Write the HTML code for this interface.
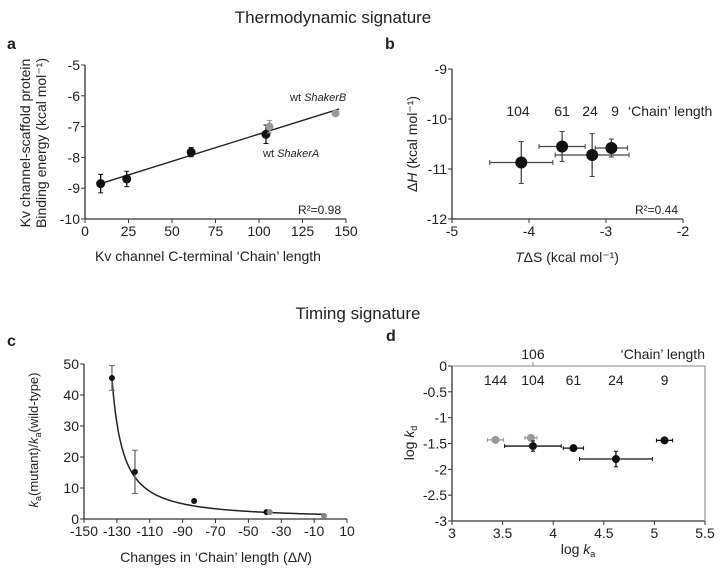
<!DOCTYPE html>
<html><head><meta charset="utf-8"><style>
body{margin:0;background:#fff;}
svg{display:block;font-family:"Liberation Sans",Arial,sans-serif;}
text{fill:#222;}
</style></head><body>
<svg id="fig" width="720" height="573" viewBox="0 0 720 573" xmlns="http://www.w3.org/2000/svg">
<text x="333" y="23" font-size="17" text-anchor="middle">Thermodynamic signature</text>
<text x="358" y="319" font-size="17" text-anchor="middle">Timing signature</text>
<text x="7" y="49" font-size="16" font-weight="bold">a</text>
<text x="385" y="49" font-size="16" font-weight="bold">b</text>
<text x="7" y="346" font-size="16" font-weight="bold">c</text>
<text x="386" y="341" font-size="16" font-weight="bold">d</text>
<g id="ga"></g>
<g id="gb"></g>
<g id="gc"></g>
<g id="gd"></g>
</svg>
<script>
// Panel a data
const aX=[9,24,61,104,106,144];
const aY=[-8.85,-8.7,-7.83,-7.25,-7.0,-6.57];
const aErr=[0.3,0.25,0.15,0.3,0.2,0.05];
const aGray=[false,false,false,false,true,true];
const aXTicks=[0,25,50,75,100,125,150];
const aYTicks=[-10,-9,-8,-7,-6,-5];
// Panel b data
const bX=[-4.1,-3.57,-3.18,-2.93];
const bY=[-10.87,-10.55,-10.72,-10.58];
const bXErr=[0.41,0.3,0.48,0.21];
const bYErr=[0.42,0.3,0.43,0.18];
const bLabels=["104","61","24","9"];
const bXTicks=[-5,-4,-3,-2];
const bYTicks=[-12,-11,-10,-9];
// Panel c data
const cX=[-133,-119,-83,-39,-37,-4];
const cY=[45.5,15.2,5.8,2.2,2.2,1.0];
const cErr=[4,7,0,0,0,0];
const cGray=[false,false,false,false,true,true];
const cXTicks=[-150,-130,-110,-90,-70,-50,-30,-10,10];
const cYTicks=[0,10,20,30,40,50];
// Panel d data
const dX=[3.43,3.78,3.8,4.2,4.62,5.1];
const dY=[-1.43,-1.39,-1.55,-1.59,-1.8,-1.44];
const dXErr=[0.08,0.06,0.28,0.1,0.36,0.08];
const dYErr=[0.05,0.04,0.1,0.04,0.15,0.05];
const dGray=[true,true,false,false,false,false];
const dTopLabels=["144","104","61","24","9"];
const dTopX=[3.43,3.8,4.2,4.62,5.1];
const dXTicks=[3,3.5,4,4.5,5,5.5];
const dYTicks=[0,-0.5,-1,-1.5,-2,-2.5,-3];

const NS="http://www.w3.org/2000/svg";
function mk(parent,tag,attrs,txt){const e=document.createElementNS(NS,tag);for(const k in attrs)e.setAttribute(k,attrs[k]);if(txt!==undefined)e.textContent=txt;parent.appendChild(e);return e;}
function scale(d0,d1,r0,r1){return v=>r0+(v-d0)*(r1-r0)/(d1-d0);}
function axes(g,sx,sy,x0,x1,y0,y1,xt,yt,fs,xlabelDy){
  const l=mk(g,'line',{x1:sx(x0),y1:sy(y0),x2:sx(x1),y2:sy(y0),stroke:'#333','stroke-width':1.3});
  
  
  const m=mk(g,'line',{x1:sx(x0),y1:sy(y0),x2:sx(x0),y2:sy(y1),stroke:'#333','stroke-width':1.3});
  
  
  xt.forEach(v=>{mk(g,'line',{x1:sx(v),x2:sx(v),y1:sy(y0),y2:sy(y0)+4,stroke:'#333'});
    const t=mk(g,'text',{x:sx(v),y:sy(y0)+17,'font-size':fs,'text-anchor':'middle'},String(v));
    
    });
  yt.forEach(v=>{mk(g,'line',{x1:sx(x0)-4,x2:sx(x0),y1:sy(v),y2:sy(v),stroke:'#333'});
    const t=mk(g,'text',{x:sx(x0)-5,y:sy(v)+5,'font-size':fs,'text-anchor':'end'},String(v));
    
    });
}
function ebar(g,x1,y1,x2,y2,col,cap,vert){
  mk(g,'line',{x1,y1,x2,y2,stroke:col,'stroke-width':1.3});
  if(vert){mk(g,'line',{x1:x1-cap,x2:x1+cap,y1,y2:y1,stroke:col});mk(g,'line',{x1:x2-cap,x2:x2+cap,y1:y2,y2,stroke:col});}
  else{mk(g,'line',{x1,x2:x1,y1:y1-cap,y2:y1+cap,stroke:col});mk(g,'line',{x1:x2,x2,y1:y2-cap,y2:y2+cap,stroke:col});}
}
// Panel a
(function(){const g=document.getElementById('ga');
const sx=scale(0,150,85,346),sy=scale(-10,-5,219,65);
axes(g,sx,sy,0,150,-10,-5,aXTicks,aYTicks,14);
mk(g,'line',{x1:sx(9),y1:sy(-8.85),x2:sx(146),y2:sy(-6.43),stroke:'#222','stroke-width':1.4});
aX.forEach((v,i)=>{const col=aGray[i]?'#999':'#111';
  ebar(g,sx(v),sy(aY[i]-aErr[i]),sx(v),sy(aY[i]+aErr[i]),col,2.5,true);
  const c=mk(g,'circle',{cx:sx(v),cy:sy(aY[i]),r:aGray[i]?4:4.5,fill:col});
  
  });
const sb=mk(g,'text',{x:290,y:101,'font-size':11},'wt ');mk(sb,'tspan',{'font-style':'italic'},'ShakerB');

const sa=mk(g,'text',{x:263,y:157,'font-size':11},'wt ');mk(sa,'tspan',{'font-style':'italic'},'ShakerA');

const r=mk(g,'text',{x:341,y:214,'font-size':12,'text-anchor':'end'},'R²=0.98');

const xt=mk(g,'text',{x:208,y:261,'font-size':14,'text-anchor':'middle'},'Kv channel C-terminal ‘Chain’ length');

const y1=mk(g,'text',{x:0,y:0,'font-size':14,'text-anchor':'middle',transform:'translate(30,143) rotate(-90)'},'Kv channel-scaffold protein');

mk(g,'text',{x:0,y:0,'font-size':14,'text-anchor':'middle',transform:'translate(46,143) rotate(-90)'},'Binding energy (kcal mol⁻¹)');
})();
// Panel b
(function(){const g=document.getElementById('gb');
const sx=scale(-5,-2,452,683),sy=scale(-12,-9,219,69);
axes(g,sx,sy,-5,-2,-12,-9,bXTicks,bYTicks,14);
bX.forEach((v,i)=>{
  ebar(g,sx(v-bXErr[i]),sy(bY[i]),sx(v+bXErr[i]),sy(bY[i]),'#444',2.5,false);
  ebar(g,sx(v),sy(bY[i]-bYErr[i]),sx(v),sy(bY[i]+bYErr[i]),'#444',2.5,true);
  const c=mk(g,'circle',{cx:sx(v),cy:sy(bY[i]),r:6,fill:'#111'});
  
  });
const lx=[518,562,590,615];
bLabels.forEach((s,i)=>{const t=mk(g,'text',{x:lx[i],y:116,'font-size':14,'text-anchor':'middle'},s);
  });
mk(g,'text',{x:628,y:116,'font-size':14},'‘Chain’ length');
const r=mk(g,'text',{x:678,y:214,'font-size':12,'text-anchor':'end'},'R²=0.44');

const xt=mk(g,'text',{x:567,y:262,'font-size':14,'text-anchor':'middle'});
mk(xt,'tspan',{'font-style':'italic'},'T');mk(xt,'tspan',{},'ΔS (kcal mol⁻¹)');

const yt=mk(g,'text',{x:0,y:0,'font-size':14,'text-anchor':'middle',transform:'translate(417,144) rotate(-90)'});
mk(yt,'tspan',{},'Δ');mk(yt,'tspan',{'font-style':'italic'},'H');mk(yt,'tspan',{},' (kcal mol⁻¹)');

})();
// Panel c
(function(){const g=document.getElementById('gc');
const sx=scale(-150,10,84,347),sy=scale(0,50,519,364);
axes(g,sx,sy,-150,10,0,50,cXTicks,cYTicks,14);
let d='';for(let x=-133;x<=-3;x+=1){const y=550/Math.pow(x+141,1.2);d+=(d?'L':'M')+sx(x).toFixed(1)+','+sy(y).toFixed(1);}
const p=mk(g,'path',{d,fill:'none',stroke:'#222','stroke-width':1.5});

cX.forEach((v,i)=>{const col=cGray[i]?'#888':'#111';
  if(cErr[i])ebar(g,sx(v),sy(cY[i]-cErr[i]),sx(v),sy(cY[i]+cErr[i]),'#666',3,true);
  const c=mk(g,'circle',{cx:sx(v),cy:sy(cY[i]),r:3,fill:col});
  
  });
const xt=mk(g,'text',{x:216,y:562,'font-size':14,'text-anchor':'middle'},'Changes in ‘Chain’ length (Δ');
mk(xt,'tspan',{'font-style':'italic'},'N');mk(xt,'tspan',{},')');

const yt=mk(g,'text',{x:0,y:0,'font-size':13,'text-anchor':'middle',transform:'translate(38,440) rotate(-90)'});
mk(yt,'tspan',{'font-style':'italic'},'k');mk(yt,'tspan',{'font-size':9,dy:3},'a');mk(yt,'tspan',{dy:-3},'(mutant)/');
mk(yt,'tspan',{'font-style':'italic'},'k');mk(yt,'tspan',{'font-size':9,dy:3},'a');mk(yt,'tspan',{dy:-3},'(wild-type)');

})();
// Panel d
(function(){const g=document.getElementById('gd');
const sx=scale(3,5.5,452,705),sy=scale(-3,0,521,366);
axes(g,sx,sy,3,5.5,-3,0,dXTicks,dYTicks,14);
const fr=mk(g,'path',{d:`M${sx(3)},${sy(0)}H${sx(5.5)}V${sy(-3)}`,fill:'none',stroke:'#888','stroke-width':1});

mk(g,'line',{x1:sx(3.8),x2:sx(3.8),y1:sy(0)-4,y2:sy(0),stroke:'#888'});
const t106=mk(g,'text',{x:sx(3.8),y:359,'font-size':14,'text-anchor':'middle'},'106');

mk(g,'text',{x:705,y:359,'font-size':14,'text-anchor':'end'},'‘Chain’ length');
dTopLabels.forEach((s,i)=>{const t=mk(g,'text',{x:sx(dTopX[i]),y:385,'font-size':14,'text-anchor':'middle'},s);
  });
dX.forEach((v,i)=>{const col=dGray[i]?'#999':'#111';
  ebar(g,sx(v-dXErr[i]),sy(dY[i]),sx(v+dXErr[i]),sy(dY[i]),col,2,false);
  ebar(g,sx(v),sy(dY[i]-dYErr[i]),sx(v),sy(dY[i]+dYErr[i]),col,2,true);
  const c=mk(g,'circle',{cx:sx(v),cy:sy(dY[i]),r:4,fill:col});
  
  });
const xt=mk(g,'text',{x:578,y:554,'font-size':14,'text-anchor':'middle'},'log ');
mk(xt,'tspan',{'font-style':'italic'},'k');mk(xt,'tspan',{'font-size':9,dy:3},'a');

const yt=mk(g,'text',{x:0,y:0,'font-size':14,'text-anchor':'middle',transform:'translate(414,443) rotate(-90)'},'log ');
mk(yt,'tspan',{'font-style':'italic'},'k');mk(yt,'tspan',{'font-size':9,dy:3},'d');

})();
</script>
</body></html>
